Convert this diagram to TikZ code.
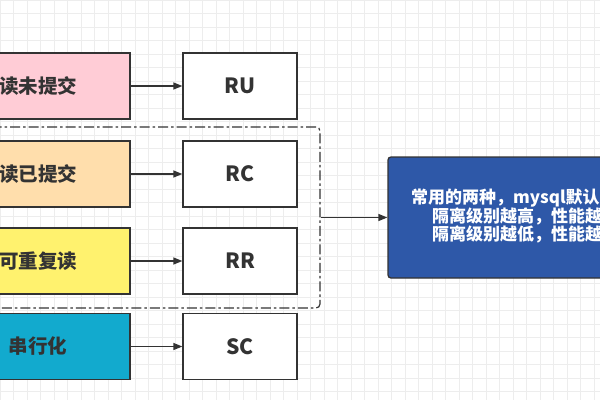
\documentclass[tikz,border=0pt]{standalone}
\usepackage{fontspec}
\setmainfont{Noto Sans CJK SC}
\usetikzlibrary{arrows.meta}
\definecolor{cpink}{RGB}{255,204,214}
\definecolor{corange}{RGB}{255,222,172}
\definecolor{cyellow}{RGB}{255,242,110}
\definecolor{ccyan}{RGB}{18,170,206}
\definecolor{cblue}{RGB}{46,88,168}
\definecolor{cline}{RGB}{51,51,51}
\definecolor{ctext}{RGB}{51,51,51}
\begin{document}
\begin{tikzpicture}[x=1pt,y=-1pt,
  levelbox/.style={draw=cline,line width=1.3pt,minimum width=184pt,minimum height=66pt,inner sep=0pt,font=\fontsize{19.5}{19.5}\selectfont\bfseries,text=ctext},
  codebox/.style={draw=cline,line width=1.3pt,fill=white,minimum width=114pt,minimum height=66pt,inner sep=0pt,font=\fontsize{21}{21}\selectfont\bfseries,text=ctext},
  note/.style={anchor=west,inner sep=0pt,text=white,font=\fontsize{17}{17}\selectfont\bfseries},
  arr/.style={draw=cline,line width=1.3pt,-{Triangle[length=9pt,width=7pt]}}]
\useasboundingbox (0,0) rectangle (600,400);
\clip (0,0) rectangle (600,400);
\fill[white] (0,0) rectangle (600,400);
\draw[black!7,line width=0.5pt,step=13.5pt] (0,0) grid (600,400);
% dashed group
\node[draw=cline,line width=1.2pt,dash pattern=on 10pt off 3pt on 2.5pt off 3pt,rounded corners=4pt,minimum width=350pt,minimum height=181pt,inner sep=0pt] (grp) at (145,217.5) {};
% level boxes
\node[levelbox,fill=cpink] (l1) at (38,86) {读未提交};
\node[levelbox,fill=corange] (l2) at (38,174) {读已提交};
\node[levelbox,fill=cyellow] (l3) at (38,261) {可重复读};
\node[levelbox,fill=ccyan] (l4) at (38,346.5) {串行化};
\node[codebox] (c1) at (240,86) {RU};
\node[codebox] (c2) at (240,174) {RC};
\node[codebox] (c3) at (240,261) {RR};
\node[codebox] (c4) at (240,346.5) {SC};
\draw[arr] (l1) -- (c1);
\draw[arr] (l2) -- (c2);
\draw[arr] (l3) -- (c3);
\draw[arr] (l4) -- (c4);
% blue note
\node[draw=cline,line width=1.3pt,fill=cblue,rounded corners=3pt,minimum width=240pt,minimum height=121pt,inner sep=0pt] (blue) at (508,217.5) {};
\draw[arr] (grp.east) -- (blue.west);
\node[note] (t1) at (411,198) {常用的两种，mysql默认};
\node[note] (t2) at (432,216.5) {隔离级别越高，性能越};
\node[note] (t3) at (432,234) {隔离级别越低，性能越};
\end{tikzpicture}
\end{document}
